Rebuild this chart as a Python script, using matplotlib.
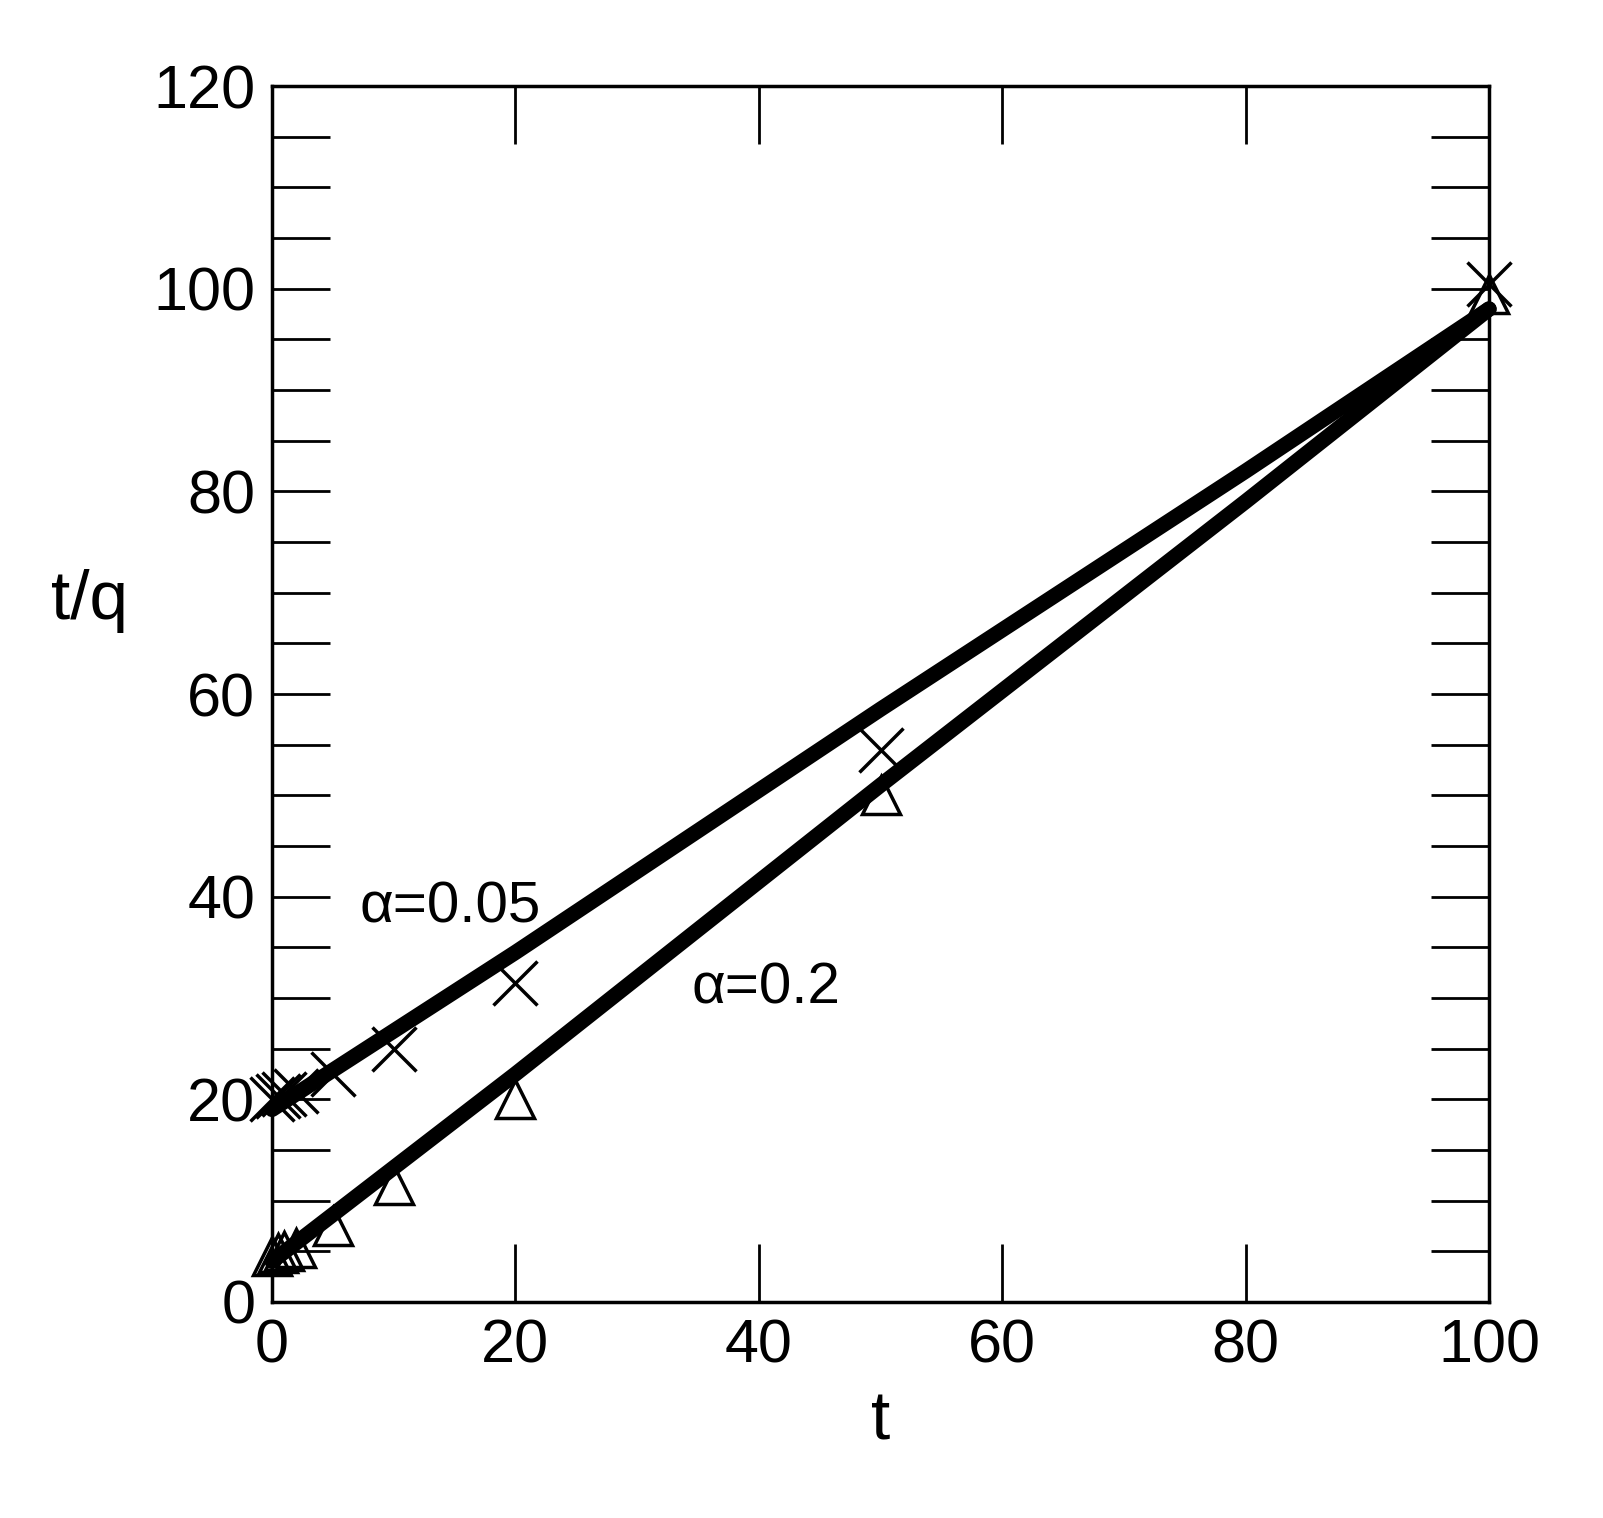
import matplotlib
matplotlib.use("Agg")
import matplotlib.pyplot as plt
import numpy as np

plt.rcParams['font.family'] = ['Liberation Sans', 'DejaVu Sans']

t_pts = [0, 0.5, 1, 2, 5, 10, 20, 50, 100]
x_005 = [20, 20.3, 20.5, 20.8, 22.5, 25, 31.5, 54.5, 100.5]
tri_02 = [4.5, 4.8, 5.0, 5.3, 7.5, 11.5, 20, 50, 99.5]
line_t = [0, 20, 50, 80, 100]
line_005 = [19, 34.5, 58.5, 82, 98]
line_02 = [4, 22.5, 51, 79, 98]

fig = plt.figure(figsize=(16.03, 15.18), dpi=100)
ax = fig.add_axes([0.1697, 0.1423, 0.7592, 0.801])
ax.plot(line_t, line_005, color='black', lw=11, solid_capstyle='round', clip_on=False)
ax.plot(line_t, line_02, color='black', lw=11, solid_capstyle='round', clip_on=False)
ax.plot(t_pts, x_005, 'x', color='black', ms=32, mew=2.5, clip_on=False)
ax.plot(t_pts, tri_02, '^', mfc='none', mec='black', ms=28, mew=2.5, clip_on=False)
ax.set_xlim(0, 100)
ax.set_ylim(0, 120)
ax.set_xticks(np.arange(0, 101, 20))
ax.set_yticks(np.arange(0, 121, 20))
ax.set_yticks(np.arange(0, 121, 5), minor=True)
ax.tick_params(which='both', direction='in', top=True, right=True, length=42, width=2, labelsize=44, pad=12)
for s in ax.spines.values():
    s.set_linewidth(2.5)
ax.set_xlabel('t', fontsize=50, labelpad=10)
ax.set_ylabel('t/q', fontsize=50, rotation=0)
ax.yaxis.set_label_coords(-0.15, 0.55)
ax.text(7.2, 37.5, 'α=0.05', fontsize=42)
ax.text(34.5, 29.5, 'α=0.2', fontsize=42)
fig.savefig('out.png', dpi=100)
